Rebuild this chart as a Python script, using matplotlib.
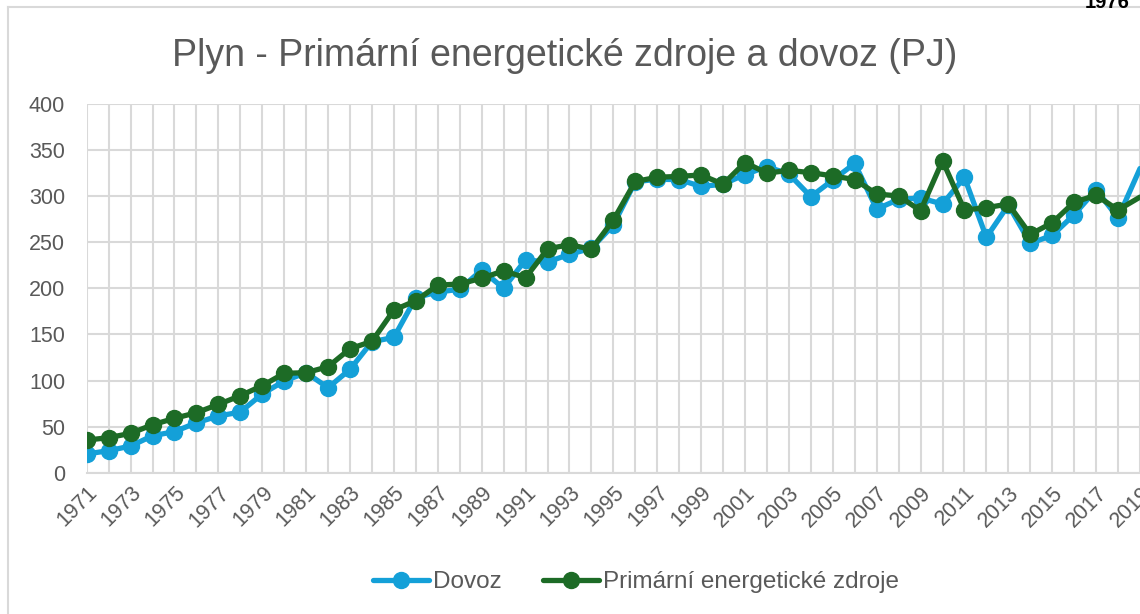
import matplotlib
matplotlib.use("Agg")
import matplotlib.pyplot as plt
from matplotlib.lines import Line2D

plt.rcParams['font.family'] = ['Liberation Sans', 'DejaVu Sans']

years = list(range(1971, 2020))
dovoz = [20.3, 23.9, 28.9, 40.1, 44.5, 54.2, 61.5, 65.8, 85.4, 99.5,
         108.5, 92.2, 112.1, 142.1, 146.8, 190.0, 196.0, 199.0, 219.9, 200.0,
         231.0, 228.5, 237.0, 243.4, 268.7, 315.7, 318.3, 318.0, 310.5, 313.0,
         323.5, 332.0, 324.0, 299.5, 317.5, 335.5, 286.0, 296.5, 298.0, 291.5,
         320.4, 255.3, 290.4, 248.8, 257.5, 280.0, 307.0, 276.5, 330.0]
primarni = [35.4, 38.0, 42.7, 52.0, 59.0, 65.1, 74.1, 83.5, 94.4, 107.8,
            108.5, 115.0, 134.5, 142.5, 176.5, 186.6, 203.5, 204.7, 211.0, 219.0,
            211.5, 242.7, 247.5, 242.3, 274.1, 316.0, 320.5, 321.5, 323.0, 313.0,
            336.5, 325.0, 328.0, 325.5, 322.0, 318.0, 302.4, 300.2, 284.3, 338.5,
            285.0, 287.5, 291.5, 258.5, 271.2, 293.5, 301.0, 285.0, 299.0]
tick_labels = [str(y) if (y - 1971) % 2 == 0 else '' for y in years]
yticks = [0, 50, 100, 150, 200, 250, 300, 350, 400]

title = "Plyn - Primární energetické zdroje a dovoz (PJ)"
blue = '#14A0D8'
green = '#1D6B26'
txt = '#595959'
grid = '#D9D9D9'

W, H = 1140, 614
fig = plt.figure(figsize=(W / 100, H / 100), dpi=100)

# plot area: 1971 at x=86.7px, 22.04 px per year; y=0 at 472.7px, y=400 at 104px
x0px, step = 86.7, 22.04
right_px = W
xmax = 1971 + (right_px - x0px) / step
ax = fig.add_axes([x0px / W, 1 - 472.7 / H, (right_px - x0px) / W, (472.7 - 104) / H])
ax.set_xlim(1971, xmax)
ax.set_ylim(0, 400)

ax.set_xticks(years)
ax.set_xticklabels(tick_labels, rotation=45, ha='right', rotation_mode='anchor',
                   fontsize=15.5, color=txt)
ax.set_yticks(yticks)
ax.set_yticklabels([str(v) for v in yticks], fontsize=15.5, color=txt)
ax.tick_params(axis='both', length=0)
ax.tick_params(axis='y', pad=15.5)
ax.tick_params(axis='x', pad=7)
ax.grid(True, color=grid, linewidth=1.5)
ax.set_axisbelow(True)
for s in ['top', 'right', 'left']:
    ax.spines[s].set_visible(False)
ax.spines['bottom'].set_color(grid)
ax.spines['bottom'].set_linewidth(1.5)

# the last category lies just beyond the cropped right edge: its marker is not seen
visible = slice(0, len(years) - 1)
ax.plot(years, dovoz, color=blue, lw=3.8, marker='o', ms=11.5, markevery=visible,
        label='Dovoz', solid_capstyle='round', zorder=3)
ax.plot(years, primarni, color=green, lw=3.8, marker='o', ms=11.5, markevery=visible,
        label='Primární energetické zdroje', solid_capstyle='round', zorder=4)

fig.text(565 / W, 1 - 66 / H, title, ha='center', va='baseline',
         fontsize=27, color=txt)

fig.legend(loc='center', bbox_to_anchor=(636 / W, 1 - 582 / H), ncol=2,
           frameon=False, fontsize=17.5, labelcolor=txt, handlelength=2.3,
           handletextpad=0.15, columnspacing=1.7)

# chart border (partially visible)
fig.add_artist(Line2D([8 / W, 8 / W], [0, 1 - 7 / H], color=grid, lw=1.5,
                      transform=fig.transFigure))
fig.add_artist(Line2D([8 / W, 1], [1 - 7 / H, 1 - 7 / H], color=grid, lw=1.5,
                      transform=fig.transFigure))
fig.text(1107 / W, 1 - 8 / H, '1976', ha='center', va='baseline',
         fontsize=14.5, fontweight='bold', color='black')

fig.savefig('out.png', dpi=100)
